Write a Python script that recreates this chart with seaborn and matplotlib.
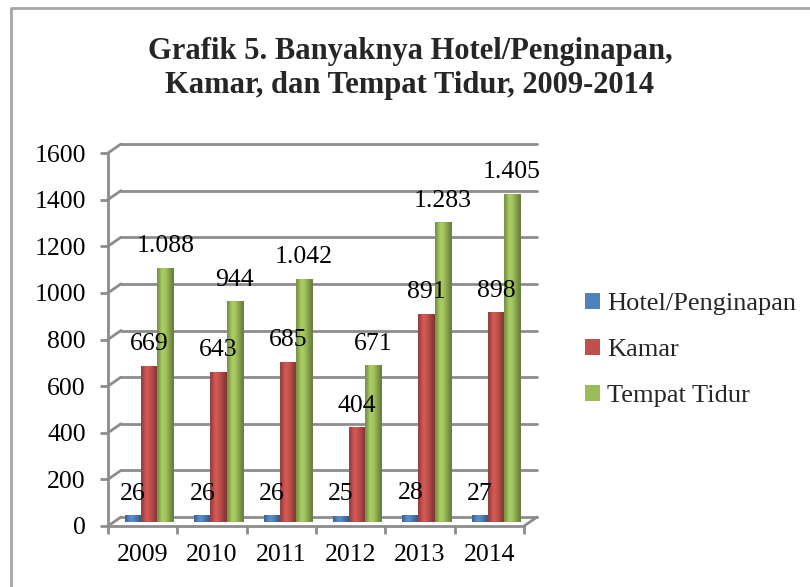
import numpy as np
import pandas as pd
import matplotlib
matplotlib.use("Agg")
import matplotlib.pyplot as plt
import matplotlib.transforms as mtransforms
from matplotlib.colors import to_rgb
from matplotlib.patches import Patch
from matplotlib.lines import Line2D
import seaborn as sns

sns.set_theme(style="white")
plt.rcParams['font.family'] = ['Liberation Serif', 'DejaVu Serif']

# data
tahun = ['2009', '2010', '2011', '2012', '2013', '2014']
hotel = [26, 26, 26, 25, 28, 27]
kamar = [669, 643, 685, 404, 891, 898]
tempat_tidur = [1088, 944, 1042, 671, 1283, 1405]
seri = ['Hotel/Penginapan', 'Kamar', 'Tempat Tidur']
warna = ['#4F81BD', '#C0504D', '#9BBB59']
y_ticks = [0, 200, 400, 600, 800, 1000, 1200, 1400, 1600]

df = pd.DataFrame({
    'Tahun': tahun * 3,
    'Nilai': hotel + kamar + tempat_tidur,
    'Seri': [s for s in seri for _ in tahun],
})

W, H = 810, 587
fig = plt.figure(figsize=(W / 100, H / 100), dpi=100)
fig.patch.set_facecolor('white')

# plot box (front face of the 3d frame), in pixels
x0, x1, y0, y1 = 108, 524, 526, 153
ax = fig.add_axes([x0 / W, 1 - y0 / H, (x1 - x0) / W, (y0 - y1) / H])
ax.set_facecolor('none')

sns.barplot(data=df, x='Tahun', y='Nilai', hue='Seri', palette=warna,
            width=0.7, ax=ax, legend=False, saturation=1, edgecolor='none')

ax.set_xlim(-0.5, len(tahun) - 0.5)
ax.set_ylim(0, 1600)

grid_c = '#8c8c8c'
fs = 18.5
# back wall shift (depth)
dx, dy = 13, 9
back = ax.transData + mtransforms.ScaledTranslation(dx / 100, dy / 100, fig.dpi_scale_trans)
mid = ax.transData + mtransforms.ScaledTranslation(6.5 / 100, 4.5 / 100, fig.dpi_scale_trans)

for v in y_ticks:
    ax.plot([-0.5, len(tahun) - 0.5], [v, v], color=grid_c, lw=2, transform=back,
            clip_on=False, zorder=0)
    ax.annotate('', xy=(-0.5, v), xytext=(dx, dy), textcoords='offset pixels',
                arrowprops=dict(arrowstyle='-', color=grid_c, lw=2,
                                shrinkA=0, shrinkB=0), annotation_clip=False)
# floor right edge
ax.annotate('', xy=(len(tahun) - 0.5, 0), xytext=(dx, dy), textcoords='offset pixels',
            arrowprops=dict(arrowstyle='-', color=grid_c, lw=2, shrinkA=0, shrinkB=0),
            annotation_clip=False)

# cylinder-like shading across each bar
shade = np.array([0.78, 0.95, 1.12, 1.08, 1.0, 0.9, 0.78, 0.68])
def grad_img(c):
    rgb = np.clip(np.outer(shade, to_rgb(c)), 0, 1)
    return rgb[np.newaxis, :, :]

for p in ax.patches:
    p.set_transform(mid)
    p.set_zorder(3)
    c = p.get_facecolor()
    v = p.get_height()
    xl = p.get_x()
    w = p.get_width()
    im = ax.imshow(grad_img(c), extent=(xl, xl + w, 0, v), transform=mid,
                   aspect='auto', interpolation='bicubic', zorder=4, clip_on=False)
    im.set_clip_path(p)
    txt = f"{int(round(v)):,}".replace(',', '.')
    ax.annotate(txt, (xl + w / 2, v), xytext=(6.5, 15),
                textcoords='offset pixels', ha='center', va='bottom',
                fontsize=fs, color='black', zorder=5)

ax.set_xlim(-0.5, len(tahun) - 0.5)
ax.set_ylim(0, 1600)

for s in ['top', 'right']:
    ax.spines[s].set_visible(False)
for s in ['left', 'bottom']:
    ax.spines[s].set_color(grid_c)
    ax.spines[s].set_linewidth(2)

ax.set_yticks(y_ticks)
ax.set_yticklabels([str(v) for v in y_ticks])
ax.tick_params(axis='y', length=6, width=2, color=grid_c, pad=10,
               labelsize=fs, labelcolor='black', left=True)
ax.set_xticks(range(len(tahun)))
ax.set_xticklabels(tahun)
ax.set_xticks(np.arange(-0.5, len(tahun)), minor=True)
ax.tick_params(axis='x', which='major', length=0, pad=13, labelsize=fs,
               labelcolor='black')
ax.tick_params(axis='x', which='minor', length=6, width=2, color=grid_c, bottom=True)
ax.set_xlabel('')
ax.set_ylabel('')
ax.grid(False)

fig.text(410 / W, 1 - 37 / H, 'Grafik 5. Banyaknya Hotel/Penginapan,\nKamar, dan Tempat Tidur, 2009-2014',
         ha='center', va='top', fontsize=22, fontweight='bold', linespacing=1.22)

handles = [Patch(facecolor=c, edgecolor='none') for c in warna]
fig.legend(handles, seri, loc='center left', bbox_to_anchor=(585 / W, 1 - 350 / H),
           frameon=False, fontsize=19, handlelength=0.55, handleheight=0.55,
           handletextpad=0.3, labelspacing=0.9, borderpad=0, borderaxespad=0)

# chart frame (only top and left edges inside the picture)
fig.add_artist(Line2D([11 / W, 11 / W, 1], [0, 1 - 8 / H, 1 - 8 / H],
                      transform=fig.transFigure, color='#a6a6a6', lw=2))

fig.savefig('out.png', dpi=100)
